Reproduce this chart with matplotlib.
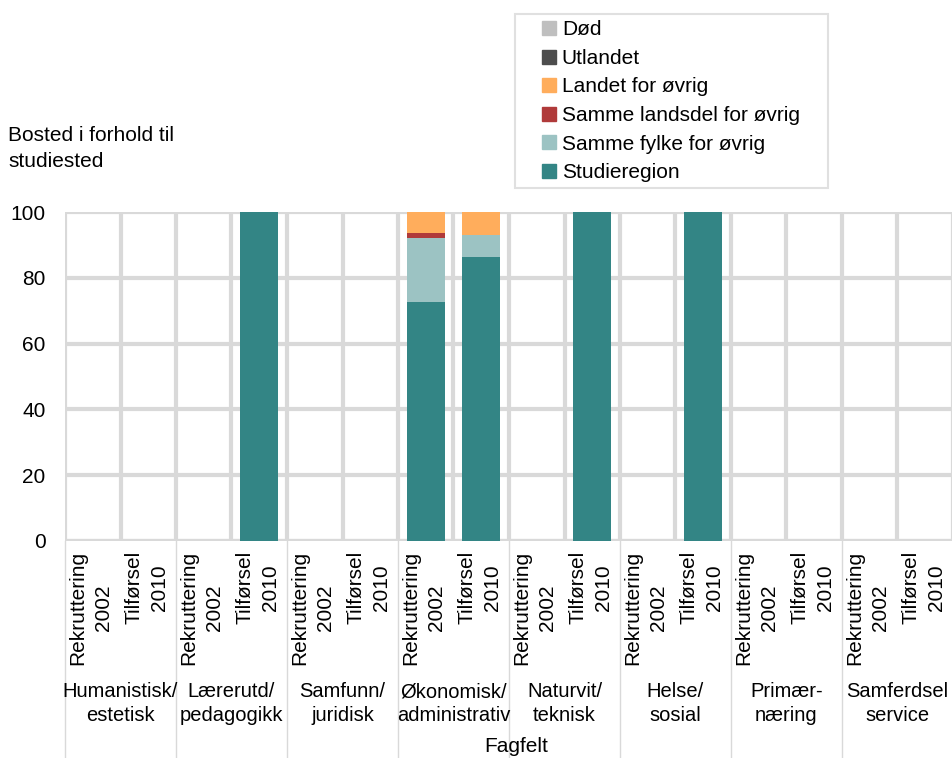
import numpy as np
import matplotlib
matplotlib.use("Agg")
import matplotlib.pyplot as plt
import matplotlib.transforms as mtransforms
from matplotlib.lines import Line2D

plt.rcParams['font.family'] = ['Liberation Sans', 'DejaVu Sans']

# Data
fagfelt = ['Humanistisk/\nestetisk', 'Lærerutd/\npedagogikk', 'Samfunn/\njuridisk',
           'Økonomisk/\nadministrativ', 'Naturvit/\nteknisk', 'Helse/\nsosial',
           'Primær-\nnæring', 'Samferdsel\nservice']
perioder = ['Rekruttering\n2002', 'Tilførsel\n2010']

serier = ['Studieregion', 'Samme fylke for øvrig', 'Samme landsdel for øvrig',
          'Landet for øvrig', 'Utlandet', 'Død']
farger = ['#338585', '#9cc3c3', '#b03a3a', '#ffad5c', '#4d4d4d', '#bfbfbf']

studieregion = [0, 0, 0, 100, 0, 0, 72.5, 86.4, 0, 100, 0, 100, 0, 0, 0, 0]
samme_fylke = [0, 0, 0, 0, 0, 0, 19.6, 6.6, 0, 0, 0, 0, 0, 0, 0, 0]
samme_landsdel = [0, 0, 0, 0, 0, 0, 1.5, 0, 0, 0, 0, 0, 0, 0, 0, 0]
landet = [0, 0, 0, 0, 0, 0, 6.4, 7.0, 0, 0, 0, 0, 0, 0, 0, 0]
utlandet = [0] * 16
dod = [0] * 16

verdier = [studieregion, samme_fylke, samme_landsdel, landet, utlandet, dod]

fig = plt.figure(figsize=(9.53, 7.58), dpi=100)
ax = fig.add_axes([65 / 953, 1 - 541 / 758, 1 - 65 / 953, 329 / 758])

x = np.arange(len(studieregion))
bunn = np.zeros(len(x))
for navn, vals, farge in zip(serier, verdier, farger):
    ax.bar(x, vals, width=0.69, bottom=bunn, color=farge, label=navn, zorder=3)
    bunn += np.array(vals)

ax.set_xlim(-0.5, len(x) - 0.5)
ax.set_ylim(0, 100)
ax.set_yticks(range(0, 101, 20))
ax.tick_params(axis='y', length=0, labelsize=15, pad=14)

# kategoriskille som vertikale gridlinjer
ax.set_xticks(np.arange(-0.5, len(x), 1), minor=True)
ax.set_xticks(x)
ax.set_xticklabels([])
ax.tick_params(axis='x', which='both', length=0)
ax.grid(True, axis='y', color='#d9d9d9', linewidth=3, zorder=0)
ax.grid(True, axis='x', which='minor', color='#d9d9d9', linewidth=3, zorder=0)
for s in ax.spines.values():
    s.set_visible(False)
ax.axhline(0, color='#d9d9d9', linewidth=3, zorder=2)

trans = mtransforms.blended_transform_factory(ax.transData, ax.transAxes)
for i in x:
    ax.text(i - 0.03, -0.03, perioder[i % 2], rotation=90, ha='center', va='top',
            multialignment='center', fontsize=15, transform=trans, linespacing=1.45)

for g, navn in enumerate(fagfelt):
    ax.text(2 * g + 0.5, -0.43, navn, ha='center', va='top', fontsize=14.5,
            transform=trans, linespacing=1.3)

for g in range(len(fagfelt) + 1):
    ax.plot([2 * g - 0.5, 2 * g - 0.5], [0, -0.67], color='#d9d9d9', linewidth=1,
            transform=trans, clip_on=False)

fig.text(516 / 953, 1 - 746 / 758, 'Fagfelt', ha='center', va='center', fontsize=15)

fig.text(8 / 953, 1 - 126 / 758, 'Bosted i forhold til\nstudiested', ha='left', va='top',
         fontsize=15, linespacing=1.45)

# legende med kvadratiske markører
h = [Line2D([], [], linestyle='none', marker='s', markersize=10, color=f) for f in farger]
leg = fig.legend(h[::-1], serier[::-1], loc='upper left',
                 bbox_to_anchor=(515 / 953, 1 - 188 / 758, 313 / 953, 174 / 758),
                 mode='expand', borderaxespad=0,
                 fontsize=15, frameon=True, fancybox=False, edgecolor='#d9d9d9',
                 handlelength=2.7, handletextpad=-0.75, numpoints=1,
                 labelspacing=0.46, borderpad=0.3)
leg.get_frame().set_linewidth(1.5)

fig.savefig('out.png', dpi=100)
